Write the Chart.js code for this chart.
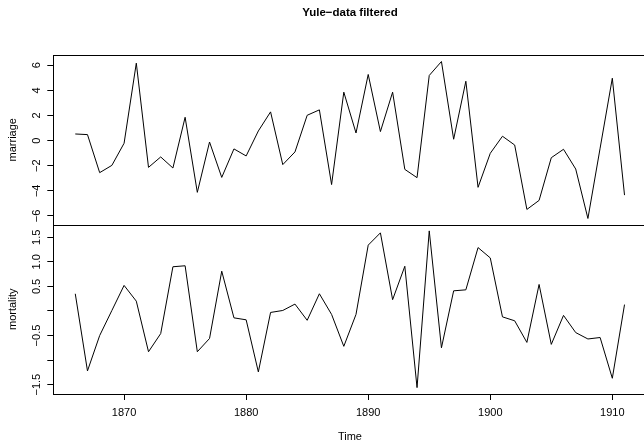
<!DOCTYPE html>
<html>
<head>
<meta charset="utf-8">
<title>Yule-data filtered</title>
<script src="https://cdn.jsdelivr.net/npm/chart.js@4.4.1/dist/chart.umd.min.js"></script>
<style>
  html, body { margin: 0; padding: 0; overflow: hidden; background: #fff; }
  #wrap { width: 660px; height: 442px; }
</style>
</head>
<body>
<div id="wrap"><canvas id="yuleChart"></canvas></div>
<script>
// yearly series
var years = [1866, 1867, 1868, 1869, 1870, 1871, 1872, 1873, 1874, 1875,
             1876, 1877, 1878, 1879, 1880, 1881, 1882, 1883, 1884, 1885,
             1886, 1887, 1888, 1889, 1890, 1891, 1892, 1893, 1894, 1895,
             1896, 1897, 1898, 1899, 1900, 1901, 1902, 1903, 1904, 1905,
             1906, 1907, 1908, 1909, 1910, 1911];

var marriage = [0.53, 0.48, -2.55, -1.97, -0.21, 6.17, -2.13, -1.30, -2.18, 1.86,
                -4.12, -0.11, -2.93, -0.66, -1.22, 0.77, 2.29, -1.91, -0.90, 2.02,
                2.45, -3.50, 3.86, 0.61, 5.27, 0.72, 3.86, -2.29, -2.95, 5.19,
                6.30, 0.11, 4.73, -3.72, -1.01, 0.35, -0.35, -5.48, -4.76, -1.36,
                -0.69, -2.26, -6.20, -0.60, 4.97, -4.34];

var mortality = [0.35, -1.22, -0.50, 0.01, 0.52, 0.20, -0.83, -0.46, 0.90, 0.92,
                 -0.83, -0.56, 0.81, -0.14, -0.18, -1.24, -0.03, 0.01, 0.14, -0.19,
                 0.35, -0.07, -0.72, -0.07, 1.34, 1.59, 0.23, 0.91, -1.56, 1.63,
                 -0.75, 0.41, 0.43, 1.29, 1.08, -0.12, -0.20, -0.64, 0.54, -0.68,
                 -0.09, -0.44, -0.57, -0.54, -1.37, 0.13];

// tick positions and their labels
var yearTicks = [1870, 1880, 1890, 1900, 1910];
var marriageTicks = [-6, -4, -2, 0, 2, 4, 6];
var marriageTickLabels = ['\u22126', '\u22124', '\u22122', '0', '2', '4', '6'];
var mortalityTicks = [-1.5, -1, -0.5, 0, 0.5, 1, 1.5];
var mortalityTickLabels = ['\u22121.5', '', '\u22120.5', '', '0.5', '1.0', '1.5'];

var FONT = '"Liberation Sans", Arial, Helvetica, sans-serif';
Chart.defaults.font.family = FONT;
Chart.defaults.color = '#000';

function toPoints(values) {
  return years.map(function (yr, i) { return { x: yr, y: values[i] }; });
}

function fixedTicks(list) {
  return function (scale) {
    scale.ticks = list.map(function (v) { return { value: v }; });
  };
}

var tickGrid = {
  display: true,
  drawOnChartArea: false,
  drawTicks: true,
  tickLength: 6,
  color: '#000',
  lineWidth: 1
};

// R-like frame around each panel, plus y labels turned parallel to the axis
var rFrame = {
  id: 'rFrame',
  afterDraw: function (chart) {
    var ctx = chart.ctx;
    var area = chart.chartArea;
    var left = Math.round(area.left) + 0.5;
    var right = Math.round(area.right) + 0.5;
    ctx.save();
    ctx.strokeStyle = '#000';
    ctx.lineWidth = 1;
    ['yMarr', 'yMort'].forEach(function (id) {
      var s = chart.scales[id];
      var top = Math.round(s.top) + 0.5;
      var bottom = Math.round(s.bottom) + 0.5;
      ctx.strokeRect(left, top, right - left, bottom - top);
    });

    ctx.fillStyle = '#000';
    ctx.font = '11px ' + FONT;
    ctx.textAlign = 'center';
    ctx.textBaseline = 'middle';
    function drawLabels(scale, values, labels) {
      values.forEach(function (v, i) {
        if (!labels[i]) return;
        ctx.save();
        ctx.translate(36.5, scale.getPixelForValue(v));
        ctx.rotate(-Math.PI / 2);
        ctx.fillText(labels[i], 0, 0);
        ctx.restore();
      });
    }
    drawLabels(chart.scales.yMarr, marriageTicks, marriageTickLabels);
    drawLabels(chart.scales.yMort, mortalityTicks, mortalityTickLabels);
    ctx.restore();
  }
};

var ctx = document.getElementById('yuleChart').getContext('2d');
var yuleChart = new Chart(ctx, {
  type: 'line',
  data: {
    datasets: [
      {
        label: 'marriage',
        data: toPoints(marriage),
        yAxisID: 'yMarr',
        borderColor: '#000',
        borderWidth: 1,
        pointRadius: 0,
        tension: 0,
        fill: false
      },
      {
        label: 'mortality',
        data: toPoints(mortality),
        yAxisID: 'yMort',
        borderColor: '#000',
        borderWidth: 1,
        pointRadius: 0,
        tension: 0,
        fill: false
      }
    ]
  },
  options: {
    responsive: true,
    maintainAspectRatio: false,
    animation: false,
    layout: { padding: { left: 0, right: 13.5, top: 0, bottom: 0 } },
    plugins: {
      legend: { display: false },
      tooltip: { enabled: false },
      title: {
        display: true,
        fullSize: false,
        text: 'Yule\u2212data filtered',
        color: '#000',
        font: { size: 11.5, weight: 'bold', lineHeight: 1.2 },
        padding: { top: 6.3, bottom: 34.9 }
      }
    },
    scales: {
      x: {
        type: 'linear',
        position: 'bottom',
        min: 1864.2,
        max: 1912.8,
        afterBuildTicks: fixedTicks(yearTicks),
        afterFit: function (s) { s.height = 48; },
        grid: tickGrid,
        border: { display: false },
        ticks: {
          padding: 6,
          maxRotation: 0,
          font: { size: 11 },
          callback: function (v) { return String(v); }
        },
        title: {
          display: true,
          text: 'Time',
          font: { size: 11, lineHeight: 1 },
          padding: { top: 0, bottom: 0 }
        }
      },
      yMarr: {
        type: 'linear',
        position: 'left',
        stack: 'yule',
        stackWeight: 1,
        weight: 2,
        min: -6.68,
        max: 6.82,
        afterBuildTicks: fixedTicks(marriageTicks),
        afterFit: function (s) { s.width = 53.3; },
        grid: tickGrid,
        border: { display: false },
        ticks: { display: false },
        title: {
          display: true,
          text: 'marriage',
          font: { size: 11, lineHeight: 1 },
          padding: { top: 7.8, bottom: 0 }
        }
      },
      yMort: {
        type: 'linear',
        position: 'left',
        stack: 'yule',
        stackWeight: 1,
        weight: 1,
        min: -1.69,
        max: 1.76,
        afterBuildTicks: fixedTicks(mortalityTicks),
        afterFit: function (s) { s.width = 53.3; },
        grid: tickGrid,
        border: { display: false },
        ticks: { display: false },
        title: {
          display: true,
          text: 'mortality',
          font: { size: 11, lineHeight: 1 },
          padding: { top: 7.8, bottom: 0 }
        }
      }
    }
  },
  plugins: [rFrame]
});
</script>
</body>
</html>
